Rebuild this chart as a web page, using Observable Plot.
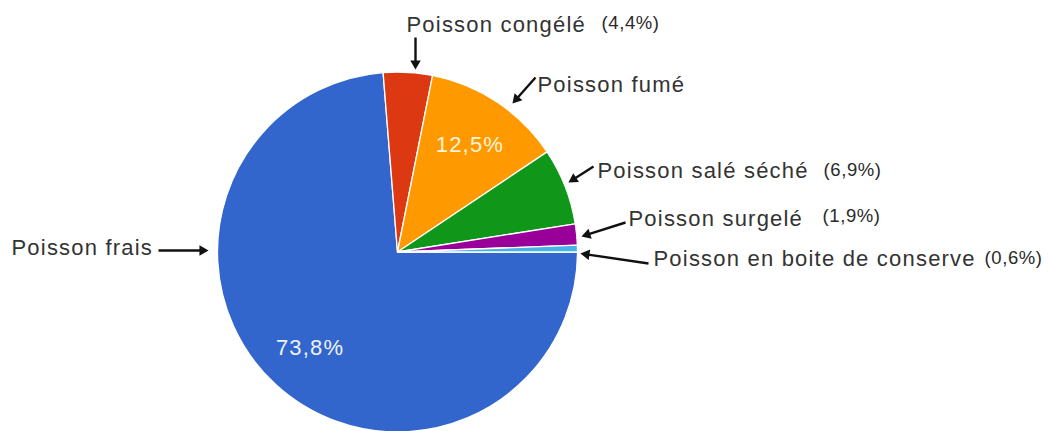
<!DOCTYPE html>
<html>
<head>
<meta charset="utf-8">
<script src="https://cdn.jsdelivr.net/npm/d3@7"></script>
<script src="https://cdn.jsdelivr.net/npm/@observablehq/plot@0.6"></script>
<style>
  html, body { margin: 0; padding: 0; background: #fff; }
  #chart svg text { letter-spacing: 1.2px; }
  #chart svg g.pct text { letter-spacing: 0.6px; }
</style>
</head>
<body>
<div id="chart"></div>
<script>
// ---- Data (clockwise from 3 o'clock) ----
const categories = ["Poisson frais", "Poisson congélé", "Poisson fumé", "Poisson salé séché", "Poisson surgelé", "Poisson en boite de conserve"];
const shares = [73.8, 4.4, 12.5, 6.9, 1.9, 0.6];
const sliceColors = ["#3366cc", "#dc3912", "#ff9900", "#109618", "#990099", "#45b1e6"];
const showPctInCallout = [false, true, false, true, true, true];

// ---- Layout (annotation placement, pixels) ----
const W = 1048, H = 431;
const cx = 397.5, cy = 252, R = 180;
const labelPos = [
  {lx: 11,  ly: 247, px: null, py: null, ax1: 158, ay1: 250, ax2: 208, ay2: 250},
  {lx: 406, ly: 24,  px: 601,  py: 23,  ax1: 415, ay1: 37,  ax2: 415, ay2: 69},
  {lx: 537, ly: 84,  px: null, py: null, ax1: 535, ay1: 77,  ax2: 512, ay2: 103},
  {lx: 597, ly: 170, px: 823,  py: 170, ax1: 593, ay1: 166, ax2: 568, ay2: 182},
  {lx: 628, ly: 218, px: 822,  py: 216, ax1: 625, ay1: 222, ax2: 581, ay2: 236},
  {lx: 653, ly: 258, px: 984,  py: 258, ax1: 648, ay1: 263, ax2: 580, ay2: 253}
];

const fmt = v => v.toFixed(1).replace(".", ",") + "%";
const slices = categories.map((c, i) => ({category: c, share: shares[i], color: sliceColors[i]}));
const pie = d3.pie().sort(null).value(d => d.share).startAngle(Math.PI / 2).endAngle(Math.PI / 2 + 2 * Math.PI);
const arcs = pie(slices);

// inner percentage labels for big slices
const inner = arcs.filter(a => a.data.share >= 10).map(a => {
  const m = (a.startAngle + a.endAngle) / 2;
  return {x: cx + 0.72 * R * Math.sin(m), y: cy - 0.72 * R * Math.cos(m), text: fmt(a.data.share),
          fill: a.data.color === "#ff9900" ? "#fff4dc" : "#eef2fb"};
});

const callouts = categories.map((c, i) => {
  const p = labelPos[i];
  const dx = p.ax2 - p.ax1, dy = p.ay2 - p.ay1, L = Math.hypot(dx, dy);
  const ux = dx / L, uy = dy / L;
  return {
    label: c, lx: p.lx, ly: p.ly,
    pct: showPctInCallout[i] ? "(" + fmt(shares[i]) + ")" : null, px: p.px, py: p.py,
    x1: p.ax1, y1: p.ay1, x2: p.ax2 - ux * 6, y2: p.ay2 - uy * 6,
    rot: Math.atan2(dx, -dy) * 180 / Math.PI
  };
});

const pieMark = (index, scales) => {
  const g = d3.create("svg:g")
    .attr("transform", `translate(${scales.x(cx)},${scales.y(cy)})`);
  const arc = d3.arc().innerRadius(0).outerRadius(R);
  g.selectAll("path").data(arcs).join("path")
    .attr("d", arc)
    .attr("fill", d => d.data.color)
    .attr("stroke", "white")
    .attr("stroke-width", 1.3)
    .attr("stroke-linejoin", "round");
  return g.node();
};

const chart = Plot.plot({
  width: W, height: H, margin: 0,
  x: {domain: [0, W], range: [0, W], axis: null},
  y: {domain: [0, H], range: [0, H], axis: null},
  style: {background: "white", fontFamily: "'Liberation Sans', Arial, sans-serif"},
  marks: [
    pieMark,
    Plot.text(inner, {x: "x", y: "y", text: "text", fill: "fill", fontSize: 22}),
    Plot.link(callouts, {x1: "x1", y1: "y1", x2: "x2", y2: "y2", stroke: "#111", strokeWidth: 2.4}),
    Plot.dot(callouts, {x: "x2", y: "y2", symbol: "triangle", r: 3.9, rotate: "rot", fill: "#111", stroke: null}),
    Plot.text(callouts, {x: "lx", y: "ly", text: "label", textAnchor: "start", fill: "#333", fontSize: 22}),
    Plot.text(callouts.filter(d => d.pct), {x: "px", y: "py", text: "pct", textAnchor: "start", fill: "#2a2a2a", fontSize: 18.5, className: "pct"})
  ]
});
document.getElementById("chart").appendChild(chart);
</script>
</body>
</html>
